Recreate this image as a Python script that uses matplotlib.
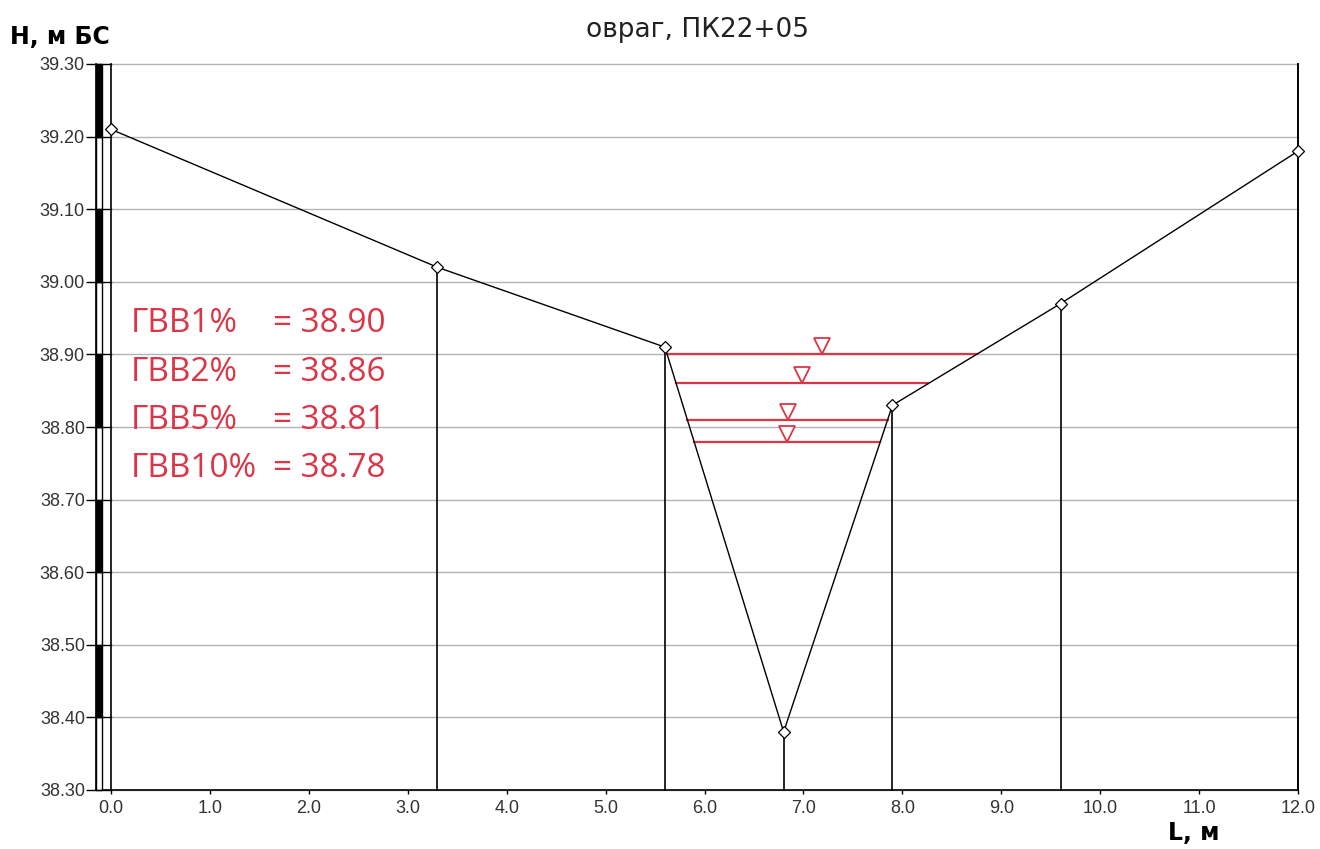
import numpy as np
import matplotlib
matplotlib.use('Agg')
import matplotlib.pyplot as plt
from matplotlib.patches import Rectangle

# ground profile
dist = [0.0, 3.3, 5.6, 6.8, 7.9, 9.6, 12.0]
elev = [39.21, 39.02, 38.91, 38.38, 38.83, 38.97, 39.18]

# high water levels
hw_names = ['ГВВ1%', 'ГВВ2%', 'ГВВ5%', 'ГВВ10%']
hw_levels = [38.90, 38.86, 38.81, 38.78]

y_ticks = [38.30, 38.40, 38.50, 38.60, 38.70, 38.80, 38.90, 39.00, 39.10, 39.20, 39.30]
x_ticks = [0.0, 1.0, 2.0, 3.0, 4.0, 5.0, 6.0, 7.0, 8.0, 9.0, 10.0, 11.0, 12.0]
x_labels = ['0.0', '1.0', '2.0', '3.0', '4.0', '5.0', '6.0', '7.0', '8.0', '9.0', '10.0', '11.0', '12.0']

red = '#dc3545'
ymin, ymax = 38.30, 39.30
xmin = -0.152

fig = plt.figure(figsize=(13.2, 8.49), dpi=100)
ax = fig.add_axes([96 / 1320, 1 - 790 / 849, (1298 - 96) / 1320, (790 - 64) / 849])
ax.set_xlim(xmin, 12.0)
ax.set_ylim(ymin, ymax)

# grid lines only over the profile area
for y in y_ticks:
    ax.plot([0, 12], [y, y], color='#b4b4b4', lw=1.0, zorder=1, clip_on=False)

# elevation scale bar on the left
bx0, bx1 = xmin, -0.091
for i in range(len(y_ticks) - 1):
    lo, hi = y_ticks[i], y_ticks[i + 1]
    fill = 'black' if i % 2 == 1 else 'white'
    ax.add_patch(Rectangle((bx0, lo), bx1 - bx0, hi - lo, facecolor=fill,
                           edgecolor='black', lw=1.0, zorder=3, clip_on=False))
for y in y_ticks:
    ax.plot([xmin, 0], [y, y], color='black', lw=1.0, zorder=4, clip_on=False)

# drop lines from each point
for x, h in zip(dist, elev):
    top = ymax if x in (dist[0], dist[-1]) else h
    ax.plot([x, x], [ymin, top], color='black', lw=1.2, zorder=3, clip_on=False)

# profile
ax.plot(dist, elev, color='black', lw=1.0, zorder=5, marker='D', ms=6,
        mfc='white', mec='black', mew=0.9, clip_on=False)

# water levels
xs = np.linspace(dist[0], dist[-1], 12001)
hs = np.interp(xs, dist, elev)
for lvl in hw_levels:
    wet = xs[hs <= lvl]
    x_left, x_right = wet.min(), wet.max()
    ax.plot([x_left, x_right], [lvl, lvl], color=red, lw=1.6, zorder=4)
    ax.plot((x_left + x_right) / 2, lvl + 0.011, marker='v', ms=11, mfc='white',
            mec=red, mew=1.3, zorder=6)

# labels
for i, (name, lvl) in enumerate(zip(hw_names, hw_levels)):
    yy = 38.942 - i * 0.0665
    ax.text(0.2, yy, name, color=red, fontsize=24, family='Open Sans', va='center')
    ax.text(1.64, yy, '= %.2f' % lvl, color=red, fontsize=24, family='Open Sans', va='center')

ax.set_yticks(y_ticks)
ax.set_yticklabels(['%.2f' % v for v in y_ticks])
ax.set_xticks(x_ticks)
ax.set_xticklabels(x_labels)
ax.tick_params(axis='y', direction='out', length=7, width=1.0, pad=1,
               labelsize=13, labelcolor='#333333')
ax.tick_params(axis='x', direction='out', length=3, width=1.0, pad=4,
               labelsize=13, labelcolor='#333333')
for lab in ax.get_xticklabels() + ax.get_yticklabels():
    lab.set_family('Liberation Sans')

ax.spines['top'].set_visible(False)
for s in ('left', 'right', 'bottom'):
    ax.spines[s].set_linewidth(1.2)

fig.text(697 / 1320, 1 - 30 / 849, 'овраг, ПК22+05', ha='center', va='center',
         fontsize=19, family='DejaVu Sans', color='#222222')
fig.text(10 / 1320, 1 - 37 / 849, 'Н, м БС', ha='left', va='center',
         fontsize=17, family='DejaVu Sans', weight='bold', color='black')
fig.text(1168 / 1320, 1 - 833 / 849, 'L, м', ha='left', va='center',
         fontsize=17, family='DejaVu Sans', weight='bold', color='black')

fig.savefig('out.png', dpi=100)
